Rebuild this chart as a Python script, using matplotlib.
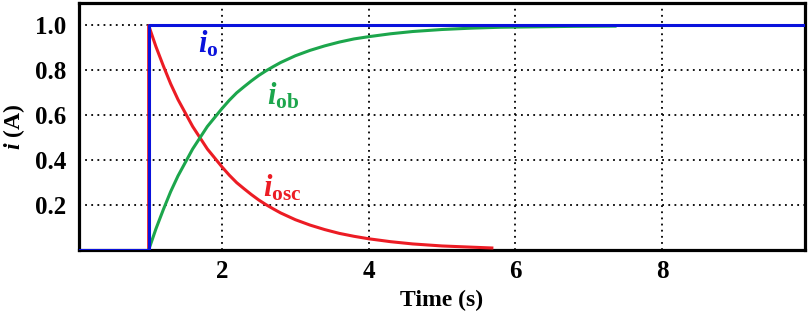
import matplotlib
matplotlib.use("Agg")
import matplotlib.pyplot as plt

# ---- data ----
t_o = [0.0, 1.0, 1.0, 10.0]
i_o = [0.0, 0.0, 1.0, 1.0]

t_ob = [1.0, 1.1, 1.2, 1.3, 1.4, 1.5, 1.6, 1.7, 1.8, 1.9, 2.0, 2.1, 2.2, 2.3, 2.4, 2.5,
        2.6, 2.7, 2.8, 2.9, 3.0, 3.2, 3.4, 3.6, 3.8, 4.0, 4.3, 4.6, 5.0, 5.4, 5.8,
        6.3, 6.8, 7.36]
i_ob = [0.0, 0.095, 0.18, 0.26, 0.33, 0.39, 0.45, 0.50, 0.55, 0.59, 0.63, 0.667, 0.70,
        0.727, 0.753, 0.777, 0.798, 0.817, 0.835, 0.85, 0.865, 0.889, 0.909, 0.926,
        0.94, 0.95, 0.963, 0.973, 0.982, 0.988, 0.992, 0.994, 0.996, 0.997]

t_osc = [1.0, 1.0, 1.1, 1.2, 1.3, 1.4, 1.5, 1.6, 1.7, 1.8, 1.9, 2.0, 2.1, 2.2, 2.3, 2.4,
         2.5, 2.6, 2.7, 2.8, 2.9, 3.0, 3.2, 3.4, 3.6, 3.8, 4.0, 4.3, 4.6, 5.0, 5.3,
         5.68]
i_osc = [0.0, 1.0, 0.905, 0.82, 0.74, 0.67, 0.61, 0.55, 0.50, 0.45, 0.41, 0.37, 0.333,
         0.30, 0.273, 0.247, 0.223, 0.202, 0.183, 0.165, 0.15, 0.135, 0.111, 0.091,
         0.074, 0.061, 0.05, 0.037, 0.027, 0.018, 0.014, 0.009]

x_ticks = [2, 4, 6, 8]
y_ticks = [0.2, 0.4, 0.6, 0.8, 1.0]
y_ticklabels = ["0.2", "0.4", "0.6", "0.8", "1.0"]

plt.rcParams['font.family'] = ['Liberation Serif', 'DejaVu Serif']
plt.rcParams['font.weight'] = 'bold'
plt.rcParams['mathtext.fontset'] = 'custom'
plt.rcParams['mathtext.it'] = 'Liberation Serif:italic:bold'
plt.rcParams['mathtext.rm'] = 'Liberation Serif:bold'
plt.rcParams['mathtext.bf'] = 'Liberation Serif:bold'

BLUE = '#0a12dc'
GREEN = '#1ca64c'
RED = '#ec1c24'

fig = plt.figure(figsize=(8.09, 3.14), dpi=100)
ax = fig.add_axes([79/809, 1 - 250/314, (805 - 79)/809, (250 - 3)/314])

ax.plot(t_osc, i_osc, color=RED, lw=2.2, zorder=3)
ax.plot(t_ob, i_ob, color=GREEN, lw=2.2, zorder=3)
ax.plot(t_o, i_o, color=BLUE, lw=2.2, zorder=4)

ax.set_xlim(0.05, 9.95)
ax.set_ylim(0.0, 1.1)
ax.set_xticks(x_ticks)
ax.set_xticklabels([str(v) for v in x_ticks])
ax.set_yticks(y_ticks)
ax.set_yticklabels(y_ticklabels)
ax.tick_params(length=0, labelsize=18, pad=9)
ax.tick_params(axis='x', pad=7)
for lab in ax.get_xticklabels() + ax.get_yticklabels():
    lab.set_fontweight('bold')

ax.grid(True, color='black', linestyle=(0, (1, 2.4)), linewidth=1.3)
for s in ax.spines.values():
    s.set_linewidth(2.3)
    s.set_color('black')

ax.set_xlabel('Time (s)', fontsize=17, fontweight='bold', labelpad=5)
ax.set_ylabel(r'$i$ (A)', fontsize=17, fontweight='bold', labelpad=6)

ax.text(1.67, 0.88, r'$i_{\mathrm{o}}$', color=BLUE, fontsize=22)
ax.text(2.61, 0.65, r'$i_{\mathrm{ob}}$', color=GREEN, fontsize=22)
ax.text(2.56, 0.237, r'$i_{\mathrm{osc}}$', color=RED, fontsize=22)

fig.savefig('out.png', dpi=100)
